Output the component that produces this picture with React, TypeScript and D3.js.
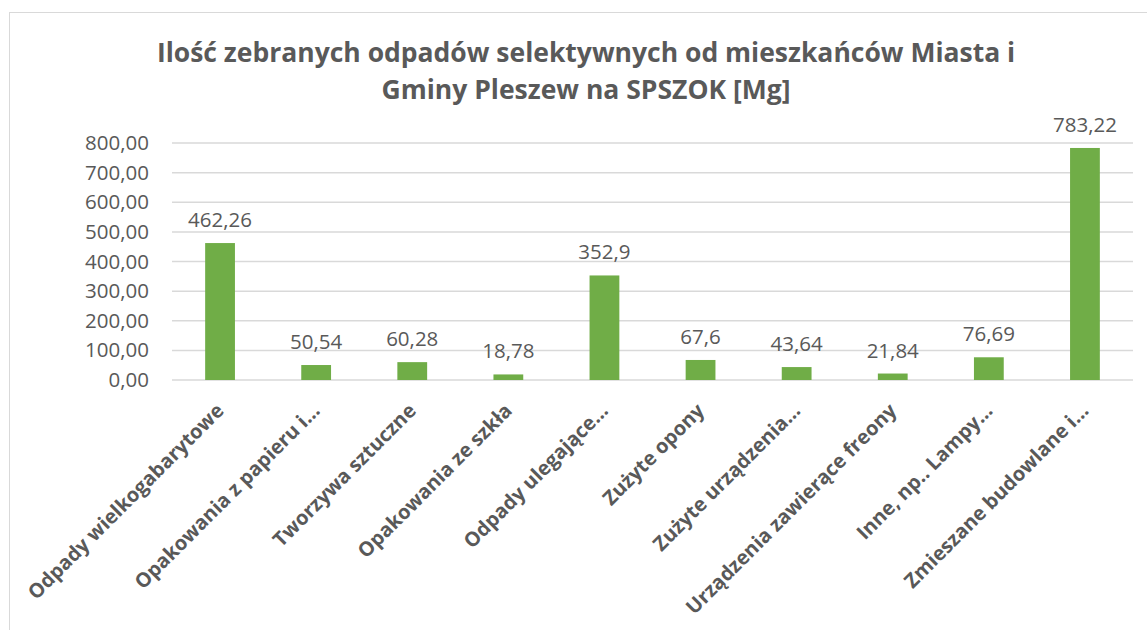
import React from "react";
import * as d3 from "d3";

// kategorie i wartości [Mg]
const categories = [
  "Odpady wielkogabarytowe",
  "Opakowania z papieru i…",
  "Tworzywa sztuczne",
  "Opakowania ze szkła",
  "Odpady ulegające…",
  "Zużyte opony",
  "Zużyte urządzenia…",
  "Urządzenia zawierące freony",
  "Inne, np.. Lampy…",
  "Zmieszane budowlane i…",
];
const values = [462.26, 50.54, 60.28, 18.78, 352.9, 67.6, 43.64, 21.84, 76.69, 783.22];
const yTicks = [0, 100, 200, 300, 400, 500, 600, 700, 800];
const titleLines = [
  "Ilość zebranych odpadów selektywnych od mieszkańców Miasta i",
  "Gminy Pleszew na SPSZOK [Mg]",
];

const W = 1147;
const H = 630;
const font = "'Open Sans', sans-serif";
const textColor = "#595959";

export default function App() {
  const x = d3.scaleBand<string>().domain(categories).range([172, 1133]).paddingInner(0.69).paddingOuter(0.345);
  const y = d3.scaleLinear().domain([0, 800]).range([380, 143]);

  return (
    <div style={{ position: "fixed", left: 0, top: 0 }}>
      <svg width={W} height={H} style={{ display: "block", background: "#fff" }}>
        <rect x={9.5} y={12.5} width={1150} height={640} fill="#fff" stroke="#d9d9d9" />
        {titleLines.map((t, i) => (
          <text key={i} x={586} y={62 + i * 37} textAnchor="middle" fontFamily={font} fontWeight="bold" fontSize={26.5} fill={textColor}>
            {t}
          </text>
        ))}
        {yTicks.map((t) => (
          <g key={t}>
            <line x1={172} x2={1133} y1={y(t)} y2={y(t)} stroke="#d9d9d9" strokeWidth={1.5} />
            <text x={149} y={y(t) + 7} textAnchor="end" fontFamily={font} fontSize={20.5} fill={textColor}>
              {d3.format(".2f")(t).replace(".", ",")}
            </text>
          </g>
        ))}
        {categories.map((c, i) => {
          const cx = x(c)! + x.bandwidth() / 2;
          return (
            <g key={c}>
              <rect x={x(c)} y={y(values[i])} width={x.bandwidth()} height={y(0) - y(values[i])} fill="#70ad47" />
              <text x={cx} y={y(values[i]) - 16} textAnchor="middle" fontFamily={font} fontSize={20.5} fill={textColor}>
                {String(values[i]).replace(".", ",")}
              </text>
              <text
                transform={`translate(${cx + 5},${y(0) + 32}) rotate(-45)`}
                textAnchor="end"
                fontFamily={font}
                fontWeight="bold"
                fontSize={20}
                fill={textColor}
              >
                {c}
              </text>
            </g>
          );
        })}
      </svg>
    </div>
  );
}
